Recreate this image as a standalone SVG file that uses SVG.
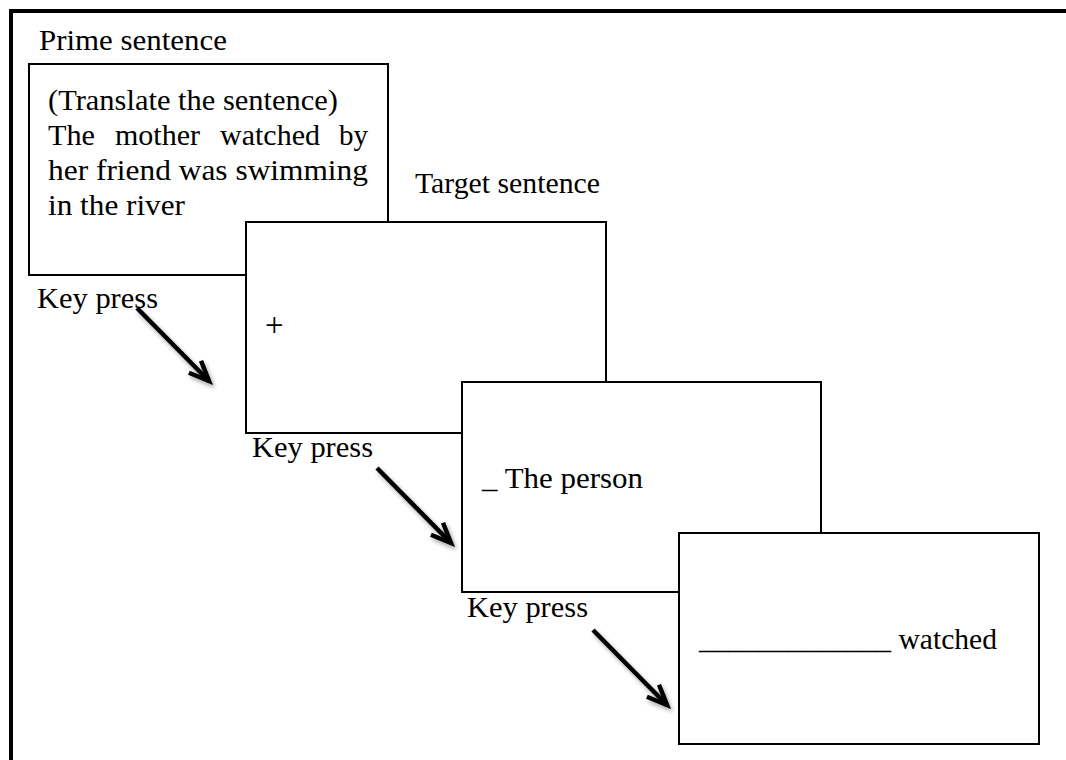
<svg xmlns="http://www.w3.org/2000/svg" width="1066" height="760" viewBox="0 0 1066 760">
<style>
text { font-family: "Liberation Serif", "Times New Roman", serif; font-size: 30px; fill: #000; }
.box { fill: #fff; stroke: #000; stroke-width: 2; }
.arrow { stroke: #000; stroke-width: 4.5; fill: none; marker-end: url(#ah); }
</style>
<defs>
<marker id="ah" markerUnits="userSpaceOnUse" markerWidth="50" markerHeight="50" viewBox="-25 -25 50 50" refX="0" refY="0" orient="auto" overflow="visible">
<path d="M-20,-8.5 L0,0 L-20,8.5" fill="none" stroke="#000" stroke-width="4.5" stroke-linejoin="miter"/>
</marker>
<filter id="shadow" x="-30%" y="-30%" width="160%" height="160%">
<feDropShadow dx="2" dy="3" stdDeviation="2" flood-color="#000" flood-opacity="0.35"/>
</filter>
</defs>
<rect width="1066" height="760" fill="#fff"/>
<path d="M11,760 V11 H1066" fill="none" stroke="#000" stroke-width="4"/>
<text x="39" y="50" textLength="188" lengthAdjust="spacingAndGlyphs">Prime sentence</text>
<g id="prime">
<rect class="box" x="29" y="64" width="359" height="211"/>
<text x="48" y="110" textLength="290" lengthAdjust="spacingAndGlyphs">(Translate the sentence)</text>
<text y="145"><tspan x="48" textLength="47" lengthAdjust="spacingAndGlyphs">The</tspan><tspan x="115" textLength="85" lengthAdjust="spacingAndGlyphs">mother</tspan><tspan x="220" textLength="100" lengthAdjust="spacingAndGlyphs">watched</tspan><tspan x="339" textLength="29" lengthAdjust="spacingAndGlyphs">by</tspan></text>
<text x="48" y="180" textLength="320" lengthAdjust="spacingAndGlyphs">her friend was swimming</text>
<text x="48" y="215" textLength="137" lengthAdjust="spacingAndGlyphs">in the river</text>
</g>
<text x="415" y="193" textLength="185" lengthAdjust="spacingAndGlyphs">Target sentence</text>
<g id="fixation">
<rect class="box" x="246" y="222" width="360" height="211"/>
<text x="265" y="336" style="font-size:33px">+</text>
</g>
<g id="word1">
<rect class="box" x="462" y="382" width="359" height="210"/>
<text x="482" y="488" textLength="161" lengthAdjust="spacingAndGlyphs">_ The person</text>
</g>
<g id="word2">
<rect class="box" x="679" y="533" width="360" height="211"/>
<text x="699" y="649" textLength="298" lengthAdjust="spacingAndGlyphs">_____________ watched</text>
</g>
<g id="labels">
<text x="37" y="308" textLength="121" lengthAdjust="spacingAndGlyphs">Key press</text>
<text x="252" y="457" textLength="121" lengthAdjust="spacingAndGlyphs">Key press</text>
<text x="467" y="617" textLength="121" lengthAdjust="spacingAndGlyphs">Key press</text>
</g>
<g id="connectors" filter="url(#shadow)">
<line class="arrow" x1="137" y1="308" x2="209" y2="381"/>
<line class="arrow" x1="377" y1="468" x2="451" y2="543"/>
<line class="arrow" x1="593" y1="630" x2="667" y2="705"/>
</g>
</svg>
